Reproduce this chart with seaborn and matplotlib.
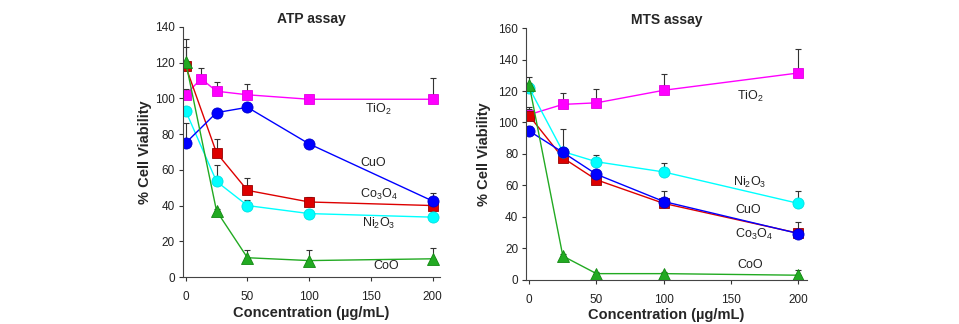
import seaborn as sns
import matplotlib.pyplot as plt
import numpy as np

# Concentrations (ug/mL)
conc = [0, 25, 50, 100, 200]
conc_tio2_atp = [0, 12.5, 25, 50, 100, 200]

# ATP assay (% viability) and upper error bars
atp_tio2 = [102, 111, 104, 102, 99.5, 99.5]
atp_tio2_err = [3, 6, 5, 6, 1, 12]
atp_co3o4 = [118, 69.5, 48.5, 42, 40]
atp_co3o4_err = [15, 7.5, 7, 3, 1]
atp_ni2o3 = [93, 53.5, 40, 35.5, 33.5]
atp_ni2o3_err = [2, 9, 3, 1, 1]
atp_cuo = [75, 92, 95, 74.5, 42.5]
atp_cuo_err = [11, 2, 2, 1, 4.5]
atp_coo = [120.5, 37, 10.8, 9.2, 10.2]
atp_coo_err = [8, 1, 4.5, 6, 6]

# MTS assay (% viability) and upper error bars
mts_tio2 = [105, 111.5, 112.5, 120.5, 131.5]
mts_tio2_err = [5, 7, 9, 10.6, 15.3]
mts_co3o4 = [104.3, 77.5, 63.5, 48.5, 29.5]
mts_co3o4_err = [4, 3, 3, 2, 7]
mts_ni2o3 = [122, 81.5, 75, 68.5, 48.5]
mts_ni2o3_err = [3, 2, 4.5, 5.5, 8]
mts_cuo = [94.6, 81, 67, 49.7, 29.3]
mts_cuo_err = [3, 14.6, 3, 6.6, 2]
mts_coo = [124, 15, 3.8, 3.8, 2.8]
mts_coo_err = [5, 1, 1, 1, 3.5]

sns.set_style("ticks")
plt.rcParams["font.family"] = ["Liberation Sans", "DejaVu Sans"]
plt.rcParams["mathtext.fontset"] = "custom"
plt.rcParams["mathtext.rm"] = "Liberation Sans"
plt.rcParams["mathtext.it"] = "Liberation Sans"
plt.rcParams["mathtext.default"] = "regular"

fig = plt.figure(figsize=(9.59, 3.24), dpi=100)
ax1 = fig.add_axes([0.191, 0.145, 0.268, 0.772])
ax2 = fig.add_axes([0.549, 0.137, 0.292, 0.776])

styles = {
    "TiO2": dict(color="#ff00ff", marker="s", ms=7.5, mec="#e000e0"),
    "Co3O4": dict(color="#dd0000", marker="s", ms=7.5, mec="#990000"),
    "Ni2O3": dict(color="#00ffff", marker="o", ms=8, mec="#00e0e0"),
    "CuO": dict(color="#0000ff", marker="o", ms=8, mec="#0000cc"),
    "CoO": dict(color="#22aa22", marker="^", ms=8, mec="#118811"),
}


def draw(ax, series, ylabelpad):
    for name, x, y, err in series:
        st = styles[name]
        ax.errorbar(x, y, yerr=[np.zeros(len(err)), err], fmt="none",
                    ecolor="#333333", elinewidth=0.8, capsize=2.5, capthick=0.8,
                    zorder=1)
        sns.lineplot(x=x, y=y, ax=ax, color=st["color"], linewidth=1,
                     marker=st["marker"], markersize=st["ms"],
                     markeredgecolor=st["mec"], markeredgewidth=0.6, zorder=2)
    ax.set_xlim(-2, 206)
    ax.set_xticks([0, 50, 100, 150, 200])
    ax.set_xlabel("Concentration (µg/mL)", fontsize=10.5, fontweight="bold", labelpad=2)
    ax.set_ylabel("% Cell Viability", fontsize=10.5, fontweight="bold",
                  labelpad=ylabelpad)
    ax.tick_params(labelsize=8.5, length=3, width=0.8, colors="#333333",
                   labelcolor="#222222")
    ax.tick_params(axis="x", pad=7)
    ax.tick_params(axis="y", pad=3)
    for sp in ["left", "bottom"]:
        ax.spines[sp].set_color("#444444")
        ax.spines[sp].set_linewidth(0.8)
    sns.despine(ax=ax)


draw(ax1, [
    ("TiO2", conc_tio2_atp, atp_tio2, atp_tio2_err),
    ("Co3O4", conc, atp_co3o4, atp_co3o4_err),
    ("Ni2O3", conc, atp_ni2o3, atp_ni2o3_err),
    ("CuO", conc, atp_cuo, atp_cuo_err),
    ("CoO", conc, atp_coo, atp_coo_err),
], 2)
ax1.set_ylim(0, 140)
ax1.set_yticks(range(0, 141, 20))
ax1.set_title("ATP assay", fontsize=10, fontweight="bold", pad=3)

draw(ax2, [
    ("TiO2", conc, mts_tio2, mts_tio2_err),
    ("Co3O4", conc, mts_co3o4, mts_co3o4_err),
    ("Ni2O3", conc, mts_ni2o3, mts_ni2o3_err),
    ("CuO", conc, mts_cuo, mts_cuo_err),
    ("CoO", conc, mts_coo, mts_coo_err),
], 5)
ax2.set_ylim(0, 160)
ax2.set_yticks(range(0, 161, 20))
ax2.set_title("MTS assay", fontsize=10, fontweight="bold", pad=3)

lab = dict(fontsize=9, ha="center", va="center", color="#222222")
ax1.text(156, 94, "TiO$_2$", **lab)
ax1.text(152, 64, "CuO", **lab)
ax1.text(156, 46, "Co$_3$O$_4$", **lab)
ax1.text(156, 30, "Ni$_2$O$_3$", **lab)
ax1.text(162, 6, "CoO", **lab)

ax2.text(164, 116.5, "TiO$_2$", **lab)
ax2.text(164, 62, "Ni$_2$O$_3$", **lab)
ax2.text(163, 44, "CuO", **lab)
ax2.text(167, 29, "Co$_3$O$_4$", **lab)
ax2.text(164, 9, "CoO", **lab)

fig.savefig("out.png", dpi=100)
